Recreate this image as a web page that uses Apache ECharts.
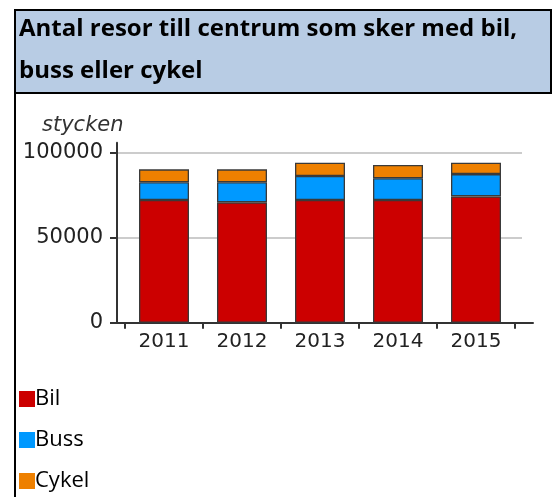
<!DOCTYPE html>
<html>
<head>
<meta charset="utf-8">
<script src="https://cdn.jsdelivr.net/npm/echarts@6/dist/echarts.min.js"></script>
<style>
    html, body { margin: 0; padding: 0; background: #fff; }
    #chart { width: 553px; height: 497px; }
</style>
</head>
<body>
<div id="chart"></div>
<script>
// data
const years = ['2011', '2012', '2013', '2014', '2015'];
const bil = [72200, 70800, 72200, 72200, 74300];
const buss = [10400, 11800, 14100, 12800, 13100];
const cykel = [7600, 7600, 7800, 7800, 6700];

const seriesNames = ['Bil', 'Buss', 'Cykel'];
const seriesColors = ['#cc0000', '#0099ff', '#ee8000'];

const axisFont = 'DejaVu Sans';
const textFont = 'Open Sans';

const chart = echarts.init(document.getElementById('chart'));

const barSeries = [bil, buss, cykel].map((values, i) => ({
    name: seriesNames[i],
    type: 'bar',
    stack: 'total',
    xAxisIndex: 0,
    yAxisIndex: 0,
    barWidth: 50,
    data: values,
    itemStyle: {
        color: seriesColors[i],
        borderColor: '#3a3a3a',
        borderWidth: 1.3
    },
    emphasis: { disabled: true }
}));

const option = {
    animation: false,
    graphic: [
        // header box
        {
            type: 'rect',
            z: -10,
            shape: { x: 15, y: 10, width: 536, height: 83 },
            style: { fill: '#b8cce4', stroke: '#000', lineWidth: 2 }
        },
        // left page border
        {
            type: 'line',
            z: -10,
            shape: { x1: 15, y1: 10, x2: 15, y2: 497 },
            style: { stroke: '#000', lineWidth: 2 }
        }
    ],
    title: [
        {
            text: 'Antal resor till centrum som sker med bil,\nbuss eller cykel',
            left: 19,
            top: 8,
            padding: 0,
            textStyle: {
                fontFamily: textFont,
                fontWeight: 'bold',
                fontSize: 24,
                lineHeight: 42,
                color: '#000'
            }
        },
        {
            text: 'stycken',
            left: 42,
            top: 115,
            padding: 0,
            textStyle: {
                fontFamily: axisFont,
                fontStyle: 'italic',
                fontWeight: 'normal',
                fontSize: 21,
                color: '#333'
            }
        }
    ],
    legend: {
        orient: 'vertical',
        left: 19,
        top: 388,
        height: 150,
        padding: 0,
        icon: 'rect',
        itemWidth: 16,
        itemHeight: 16,
        itemGap: 19,
        selectedMode: false,
        data: seriesNames,
        itemStyle: { borderWidth: 0 },
        textStyle: {
            fontFamily: textFont,
            fontSize: 22,
            lineHeight: 20,
            color: '#000',
            padding: [0, 0, 0, -5]
        }
    },
    grid: [
        // bars
        { left: 125, right: 38, top: 152.7, bottom: 174.3 },
        // axis lines
        { left: 117, right: 20, top: 142.7, bottom: 174.3 },
        // value labels and grid lines
        { left: 117, right: 31, top: 152.7, bottom: 174.3 }
    ],
    xAxis: [
        {
            type: 'category',
            gridIndex: 0,
            data: years,
            axisLine: { show: false },
            axisTick: {
                show: true,
                length: 6,
                lineStyle: { color: '#333', width: 2 }
            },
            axisLabel: {
                margin: 9,
                fontFamily: axisFont,
                fontSize: 20,
                color: '#222'
            }
        },
        {
            type: 'value',
            gridIndex: 1,
            min: 0,
            max: 1,
            axisLine: { show: true, onZero: false, lineStyle: { color: '#333', width: 2 } },
            axisTick: { show: false },
            axisLabel: { show: false },
            splitLine: { show: false }
        },
        {
            type: 'value',
            gridIndex: 2,
            show: false
        }
    ],
    yAxis: [
        {
            type: 'value',
            gridIndex: 0,
            min: 0,
            max: 100000,
            show: false
        },
        {
            type: 'value',
            gridIndex: 1,
            min: 0,
            max: 1,
            axisLine: { show: true, onZero: false, lineStyle: { color: '#333', width: 2 } },
            axisTick: { show: false },
            axisLabel: { show: false },
            splitLine: { show: false }
        },
        {
            type: 'value',
            gridIndex: 2,
            min: 0,
            max: 100000,
            interval: 50000,
            axisLine: { show: false },
            axisTick: {
                show: true,
                length: 7,
                lineStyle: { color: '#333', width: 2 }
            },
            axisLabel: {
                margin: 14,
                fontFamily: axisFont,
                fontSize: 21,
                color: '#222',
                formatter: (v) => String(v)
            },
            splitLine: {
                show: true,
                showMinLine: false,
                lineStyle: { color: '#bbb', width: 1.5 }
            }
        }
    ],
    series: barSeries
};

chart.setOption(option);
</script>
</body>
</html>
